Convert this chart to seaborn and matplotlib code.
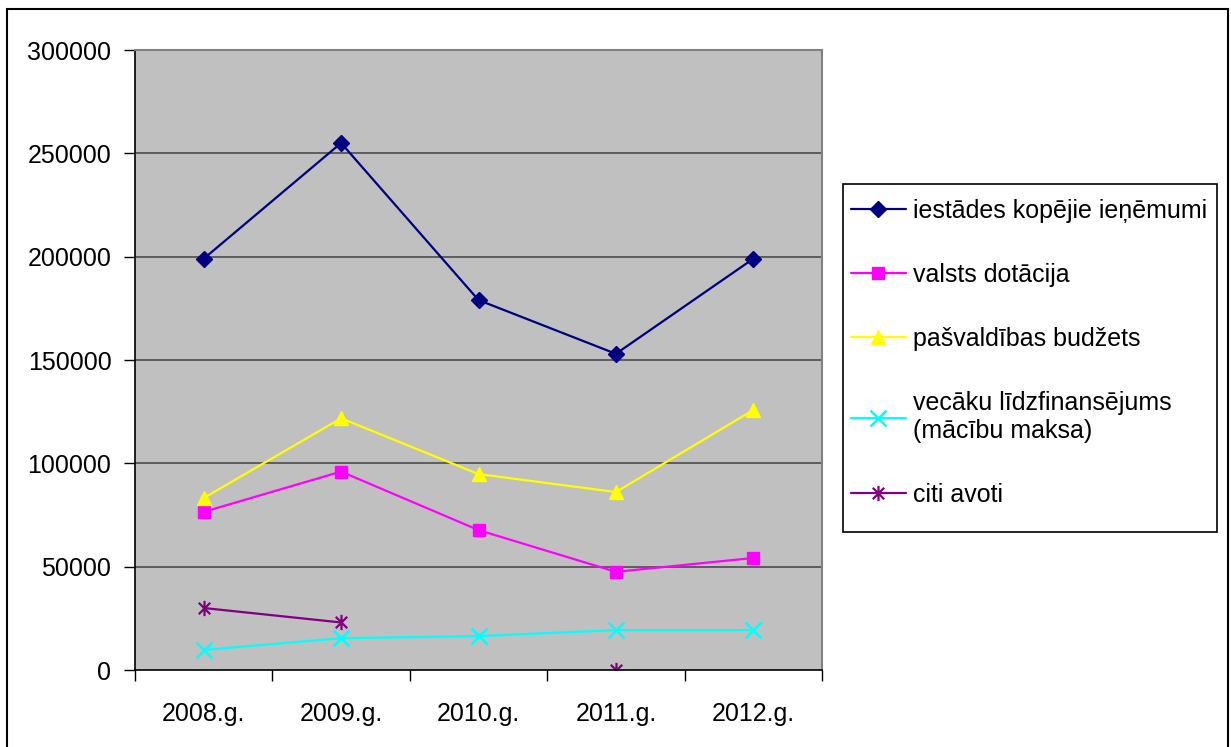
import numpy as np
import pandas as pd
import matplotlib
matplotlib.use("Agg")
import matplotlib.pyplot as plt
import seaborn as sns
from matplotlib.path import Path
from matplotlib.lines import Line2D
from matplotlib.patches import Rectangle

years = ["2008.g.", "2009.g.", "2010.g.", "2011.g.", "2012.g."]
kopejie = [199000, 255000, 179000, 153000, 199000]
valsts = [76500, 96000, 67700, 47500, 54200]
pasvaldibas = [83200, 121800, 94800, 86100, 125800]
vecaku = [9700, 15400, 16400, 19300, 19300]
citi = [30000, 23000, np.nan, 0, np.nan]

labels = ["iestādes kopējie ieņēmumi", "valsts dotācija", "pašvaldības budžets",
          "vecāku līdzfinansējums\n(mācību maksa)", "citi avoti"]
colors = ["#000080", "#FF00FF", "#FFFF00", "#00FFFF", "#800080"]
yticks = [0, 50000, 100000, 150000, 200000, 250000, 300000]

sns.set_theme(style="white")
plt.rcParams['font.family'] = ['Liberation Sans', 'DejaVu Sans']
plt.rcParams['text.color'] = "#000000"
plt.rcParams['xtick.color'] = "#000000"
plt.rcParams['ytick.color'] = "#000000"

FS = 18

fig = plt.figure(figsize=(12.31, 7.47), dpi=100)
ax = fig.add_axes([135/1231, 1-670/747, (822-135)/1231, (670-50)/747])
ax.set_facecolor("#C0C0C0")

# asterisk marker: vertical line + X
star = Path([(0, -1), (0, 1), (-0.75, -0.75), (0.75, 0.75), (-0.75, 0.75), (0.75, -0.75)],
            [Path.MOVETO, Path.LINETO, Path.MOVETO, Path.LINETO, Path.MOVETO, Path.LINETO])

xs = np.arange(len(years))
series = [kopejie, valsts, pasvaldibas, vecaku]
mk = ["D", "s", "^", "x"]
ms = [8.5, 8.5, 10.5, 11]
mew = [1, 1, 1, 1.8]
for vals, m, s, c, w in zip(series, mk, ms, colors[:4], mew):
    sns.lineplot(x=xs, y=vals, ax=ax, color=c, marker=m, markersize=s,
                 markeredgecolor=c, markerfacecolor=c, markeredgewidth=w,
                 linewidth=1.6, legend=False)

# citi avoti: break line at missing values
seg = []
sid = 0
for v in citi:
    if np.isnan(v):
        sid += 1
    seg.append(sid)
dfc = pd.DataFrame({"x": xs, "y": citi, "seg": seg}).dropna()
sns.lineplot(data=dfc, x="x", y="y", units="seg", estimator=None, ax=ax,
             color=colors[4], marker=star, markersize=11, markeredgecolor=colors[4],
             markeredgewidth=1.6, linewidth=1.6, legend=False)

ax.set_xlim(-0.5, 4.5)
ax.set_ylim(0, 300000)
ax.set_yticks(yticks)
ax.set_yticklabels([str(v) for v in yticks], fontsize=FS)
ax.set_xticks(xs)
ax.set_xticklabels(years, fontsize=FS)
ax.set_xticks(np.arange(-0.5, 5.0, 1.0), minor=True)
ax.tick_params(axis="x", which="major", length=0, pad=23)
ax.tick_params(axis="x", which="minor", length=8, width=1, color="#000000", direction="out", bottom=True)
ax.tick_params(axis="y", which="major", length=8, width=1, color="#000000", direction="out", left=True, pad=9)
ax.set_xlabel("")
ax.set_ylabel("")
ax.grid(False)
for v in yticks[1:]:
    ax.axhline(v, color="#555555", linewidth=1.3, zorder=0.5)
for sp in ["left", "bottom"]:
    ax.spines[sp].set_color("#000000")
    ax.spines[sp].set_linewidth(1.2)
for sp in ["top", "right"]:
    ax.spines[sp].set_color("#808080")
    ax.spines[sp].set_linewidth(1.5)

# legend
handles = []
for c, m, s, w in zip(colors, mk + [star], ms[:4] + [11], mew + [1.6]):
    handles.append(Line2D([0], [0], color=c, marker=m, markersize=s, markerfacecolor=c,
                          markeredgecolor=c, markeredgewidth=w, linewidth=1.6))
fig.patches.append(Rectangle((843/1231, 1-532/747), (1217-843)/1231, (532-184)/747,
                             transform=fig.transFigure, fill=False, edgecolor="#000000",
                             linewidth=1.2))
fig.legend(handles, labels, loc="upper left", bbox_to_anchor=(851/1231, 1-199/747),
           frameon=False, fontsize=FS, handlelength=2.2, handletextpad=0.3,
           labelspacing=1.6, borderpad=0, borderaxespad=0)

# outer border
fig.patches.append(Rectangle((7/1231, -0.01), (1228-7)/1231, 1.01-9/747,
                             transform=fig.transFigure, fill=False, edgecolor="#000000",
                             linewidth=1.5))

fig.savefig("out.png", dpi=100)
